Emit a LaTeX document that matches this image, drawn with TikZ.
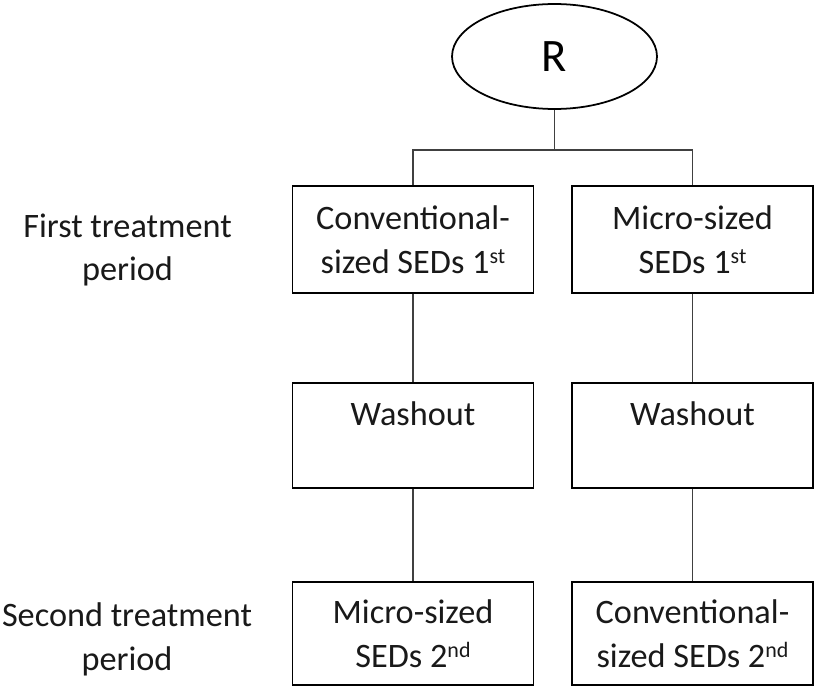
\documentclass[tikz,border=0pt]{standalone}
\usepackage{fontspec}
\setmainfont{Carlito}
\usetikzlibrary{shapes.geometric}
\newcommand{\ordsup}[1]{\raisebox{0.62ex}{\fontsize{12.5}{12}\selectfont #1}}

\begin{document}
\begin{tikzpicture}[x=0.02cm,y=-0.02cm,
		txt/.style={font=\fontsize{19.5}{25}\selectfont, align=center, text=black!90},
		arm/.style={txt, draw=black, line width=1.1pt, minimum width=4.82cm, inner sep=0pt},
		link/.style={line width=0.7pt, black!75}]
		% Frame
		\useasboundingbox (0,0) rectangle (814,686);
		% Randomisation
		\node[draw, ellipse, line width=1pt, minimum width=4.1cm, minimum height=2.1cm, inner sep=0pt,
			font=\fontsize{26.5}{32}\selectfont] (rand) at (554.5,56.5) {R};
		% Period labels
		\node[txt] (first) at (127.5,250) {First treatment\\period};
		\node[txt] (second) at (127,639) {Second treatment\\period};
		% First period
		\node[arm, minimum height=2.13cm] (conv1) at (413,239.5) {Conventional-\\sized SEDs 1\ordsup{st}};
		\node[arm, minimum height=2.13cm] (micro1) at (692.5,239.5) {Micro-sized\\SEDs 1\ordsup{st}};
		% Washout
		\node[arm, minimum height=2.1cm] (wash1) at (413,435.5) {Washout\\\mbox{}};
		\node[arm, minimum height=2.1cm] (wash2) at (692.5,435.5) {Washout\\\mbox{}};
		% Second period
		\node[arm, minimum height=2.06cm] (micro2) at (413,633.5) {Micro-sized\\SEDs 2\ordsup{nd}};
		\node[arm, minimum height=2.06cm] (conv2) at (692.5,633.5) {Conventional-\\sized SEDs 2\ordsup{nd}};
		% Connectors
		\coordinate (split) at (554.5,150);
		\draw[link] (rand) -- (split);
		\draw[link] (conv1) |- (split) -| (micro1);
		\draw[link] (conv1) -- (wash1) -- (micro2);
		\draw[link] (micro1) -- (wash2) -- (conv2);
	\end{tikzpicture}
\end{document}
